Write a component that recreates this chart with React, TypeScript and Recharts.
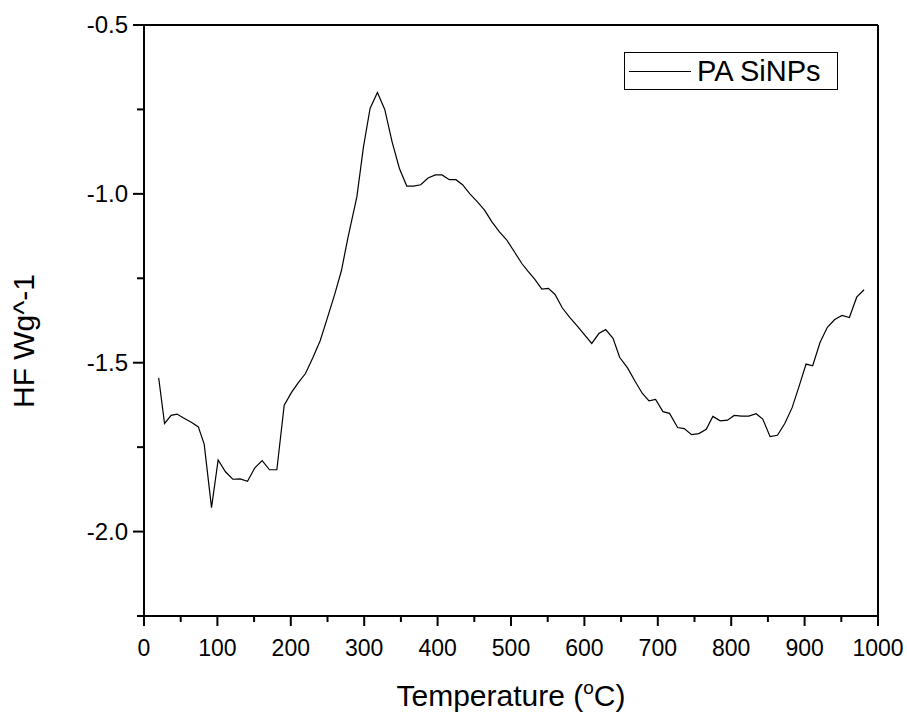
import { LineChart, Line, XAxis, YAxis, ReferenceLine } from "recharts";

// DSC trace of PA SiNPs: temperature (°C) vs heat flow (W/g)
const temperature = [
  20, 28, 37, 45, 54, 65, 74, 82, 92, 101, 111, 121, 131, 141, 151, 161, 171, 181, 191, 201,
  210, 220, 230, 240, 249, 260, 269, 278, 290, 299, 308, 318, 328, 338, 348, 358, 367, 377, 387, 397,
  406, 416, 425, 434, 444, 453, 464, 474, 484, 494, 505, 515, 523, 532, 542, 551, 560, 570, 580, 591,
  600, 610, 620, 629, 639, 648, 659, 669, 679, 688, 697, 707, 716, 727, 736, 746, 756, 766, 775, 785,
  795, 804, 814, 824, 834, 843, 853, 863, 873, 883, 892, 902, 911, 921, 931, 941, 951, 961, 971, 981,
];
const heatFlow = [
  -1.545, -1.68, -1.656, -1.652, -1.664, -1.677, -1.69, -1.741, -1.929, -1.788, -1.823, -1.845, -1.844, -1.851, -1.811, -1.79, -1.817, -1.817, -1.626, -1.588,
  -1.56, -1.532, -1.485, -1.435, -1.373, -1.296, -1.227, -1.128, -1.009, -0.861, -0.747, -0.7, -0.75, -0.846, -0.925, -0.977, -0.977, -0.973, -0.953, -0.944,
  -0.944, -0.958, -0.958, -0.973, -1.0, -1.021, -1.048, -1.083, -1.112, -1.136, -1.173, -1.207, -1.229, -1.252, -1.282, -1.28, -1.298, -1.338, -1.366, -1.393,
  -1.417, -1.443, -1.413, -1.402, -1.428, -1.484, -1.516, -1.555, -1.591, -1.613, -1.609, -1.645, -1.65, -1.692, -1.695, -1.713, -1.71, -1.697, -1.659, -1.672,
  -1.67, -1.656, -1.658, -1.658, -1.651, -1.667, -1.719, -1.715, -1.68, -1.633, -1.573, -1.504, -1.509, -1.44, -1.395, -1.372, -1.36, -1.366, -1.306, -1.284,
];

const xMajorTicks = [0, 100, 200, 300, 400, 500, 600, 700, 800, 900, 1000];
const xMinorTicks = [50, 150, 250, 350, 450, 550, 650, 750, 850, 950];
const yMajorTicks = [-2.0, -1.5, -1.0, -0.5];
const yMinorTicks = [-2.25, -1.75, -1.25, -0.75];

const seriesName = "PA SiNPs";

const data = temperature.map((t, i) => ({ t, hf: heatFlow[i] }));
const xTicks = [...xMajorTicks, ...xMinorTicks].sort((a, b) => a - b);
const yTicks = [...yMajorTicks, ...yMinorTicks].sort((a, b) => a - b);

const FONT = "'Liberation Sans', Arial, sans-serif";

function BottomTick({ x, y, payload }: any) {
  const major = xMajorTicks.includes(payload.value);
  return (
    <g>
      <line x1={x} x2={x} y1={y} y2={y + (major ? 10 : 6)} stroke="#000" strokeWidth={2} />
      {major && (
        <text x={x} y={y + 40} textAnchor="middle" fontSize={23} fill="#000" fontFamily={FONT}>
          {payload.value}
        </text>
      )}
    </g>
  );
}

function LeftTick({ x, y, payload }: any) {
  const major = yMajorTicks.includes(payload.value);
  return (
    <g>
      <line x1={x} x2={x - (major ? 11 : 7)} y1={y} y2={y} stroke="#000" strokeWidth={2} />
      {major && (
        <text x={x - 16} y={y + 8} textAnchor="end" fontSize={24} fill="#000" fontFamily={FONT}>
          {payload.value.toFixed(1)}
        </text>
      )}
    </g>
  );
}

export default function App() {
  return (
    <div style={{ position: "absolute", left: 0, top: 0, width: 907, height: 717, background: "#fff" }}>
      <LineChart width={907} height={717} data={data} margin={{ top: 25, right: 29, bottom: 41, left: 84 }}>
        <XAxis
          xAxisId="b"
          dataKey="t"
          type="number"
          domain={[0, 1000]}
          ticks={xTicks}
          interval={0}
          height={60}
          tickSize={0}
          tickMargin={0}
          tickLine={false}
          tick={<BottomTick />}
          axisLine={{ stroke: "#000", strokeWidth: 2 }}
        />
        <YAxis
          yAxisId="l"
          type="number"
          domain={[-2.25, -0.5]}
          ticks={yTicks}
          interval={0}
          width={60}
          tickSize={0}
          tickMargin={0}
          tickLine={false}
          tick={<LeftTick />}
          axisLine={{ stroke: "#000", strokeWidth: 2 }}
        />
        {/* frame: top and right edges */}
        <ReferenceLine xAxisId="b" yAxisId="l" y={-0.5} stroke="#000" strokeWidth={2} />
        <ReferenceLine xAxisId="b" yAxisId="l" x={1000} stroke="#000" strokeWidth={2} />
        <Line
          xAxisId="b"
          yAxisId="l"
          type="linear"
          dataKey="hf"
          name={seriesName}
          stroke="#000"
          strokeWidth={1.2}
          dot={false}
          isAnimationActive={false}
        />
        <text x={511} y={706} textAnchor="middle" fontSize={30} fill="#000" fontFamily={FONT}>
          Temperature (
          <tspan fontSize={19} dy={-12}>o</tspan>
          <tspan dy={12}>C)</tspan>
        </text>
        <text
          x={34}
          y={341}
          transform="rotate(-90 34 341)"
          textAnchor="middle"
          fontSize={30}
          fill="#000"
          fontFamily={FONT}
        >
          HF Wg^-1
        </text>
      </LineChart>
      <div
        style={{
          position: "absolute",
          left: 624,
          top: 52,
          width: 214,
          height: 38,
          border: "1px solid #000",
          background: "#fff",
          display: "flex",
          alignItems: "center",
          whiteSpace: "nowrap",
          fontFamily: FONT,
          fontSize: 29,
          boxSizing: "border-box",
        }}
      >
        <span style={{ display: "inline-block", flex: "none", width: 62, marginLeft: 4, borderTop: "1px solid #000" }} />
        <span style={{ marginLeft: 6 }}>{seriesName}</span>
      </div>
    </div>
  );
}
